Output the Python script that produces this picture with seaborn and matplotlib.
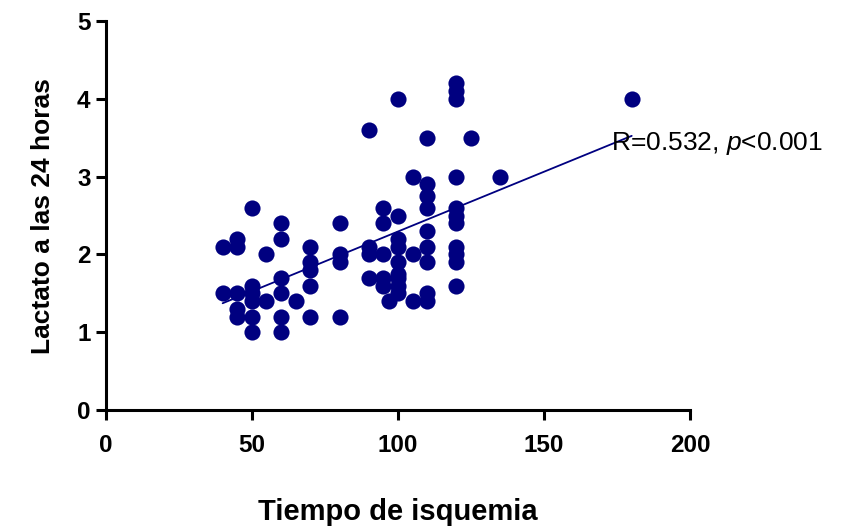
import numpy as np
import pandas as pd
import seaborn as sns
import matplotlib.pyplot as plt

# Tiempo de isquemia (min) y lactato a las 24 horas
tiempo = [40, 40, 45, 45, 45, 45, 45, 50, 50, 50, 50, 50, 50,
          55, 55, 60, 60, 60, 60, 60, 60, 65,
          70, 70, 70, 70, 70, 80, 80, 80, 80,
          90, 90, 90, 90, 95, 95, 95, 95, 95,
          97, 100, 100, 100, 100, 100, 100, 100, 100, 100,
          105, 105, 105,
          110, 110, 110, 110, 110, 110, 110, 110, 110,
          120, 120, 120, 120, 120, 120, 120, 120, 120, 120, 120,
          125, 135, 180]
lactato = [2.1, 1.5, 2.2, 2.1, 1.5, 1.3, 1.2, 2.6, 1.6, 1.5, 1.4, 1.2, 1.0,
           2.0, 1.4, 2.4, 2.2, 1.7, 1.5, 1.2, 1.0, 1.4,
           2.1, 1.9, 1.8, 1.6, 1.2, 2.4, 2.0, 1.9, 1.2,
           3.6, 2.1, 2.0, 1.7, 2.6, 2.4, 2.0, 1.7, 1.6,
           1.4, 4.0, 2.5, 2.2, 2.1, 1.9, 1.75, 1.7, 1.6, 1.5,
           3.0, 2.0, 1.4,
           3.5, 2.9, 2.75, 2.6, 2.3, 2.1, 1.9, 1.5, 1.4,
           4.2, 4.1, 4.0, 3.0, 2.6, 2.5, 2.4, 2.1, 2.0, 1.9, 1.6,
           3.5, 3.0, 4.0]
texto_r = "R=0.532, $\\it{p}$<0.001"

df = pd.DataFrame({"tiempo": tiempo, "lactato": lactato})

sns.set_style("ticks")
plt.rcParams['font.family'] = ['Liberation Sans', 'DejaVu Sans']
plt.rcParams['mathtext.fontset'] = 'custom'
plt.rcParams['mathtext.rm'] = 'Liberation Sans'
plt.rcParams['mathtext.it'] = 'Liberation Sans:italic'
plt.rcParams['text.color'] = 'black'
plt.rcParams['axes.labelcolor'] = 'black'
plt.rcParams['xtick.color'] = 'black'
plt.rcParams['ytick.color'] = 'black'

fig = plt.figure(figsize=(8.67, 5.31), dpi=100)
ax = fig.add_axes([0.122, 0.228, 0.674, 0.732])

azul = "#000080"
sns.regplot(data=df, x="tiempo", y="lactato", ax=ax, ci=None,
            scatter_kws={"s": 135, "color": azul, "alpha": 1, "linewidths": 0},
            line_kws={"color": azul, "lw": 1.3})

ax.text(173, 3.43, texto_r, fontsize=19, va="center", ha="left", color="black")

ax.set_xlim(0, 200)
ax.set_ylim(0, 5)
ax.set_xticks([0, 50, 100, 150, 200])
ax.set_yticks([0, 1, 2, 3, 4, 5])
ax.set_xlabel("Tiempo de isquemia", fontsize=21, fontweight="bold", labelpad=30)
ax.set_ylabel("Lactato a las 24 horas", fontsize=19, fontweight="bold", labelpad=16)
ax.tick_params(labelsize=17.5, width=2.2, length=7)
ax.tick_params(axis="x", pad=10)
ax.tick_params(axis="y", pad=4)
for lab in ax.get_xticklabels() + ax.get_yticklabels():
    lab.set_fontweight("bold")
for s in ["left", "bottom"]:
    ax.spines[s].set_linewidth(2.2)
    ax.spines[s].set_color("black")
sns.despine(ax=ax)

fig.savefig("out.png", dpi=100)
